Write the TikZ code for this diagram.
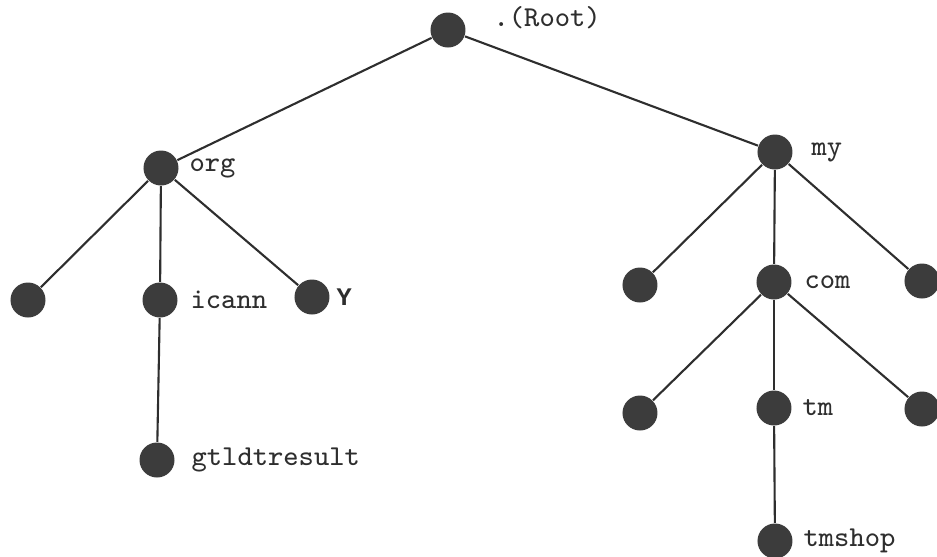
\documentclass[tikz,border=0pt]{standalone}
\usepackage{fontspec}
\newfontfamily\boldmono{Liberation Mono}
\definecolor{dotgray}{HTML}{3C3C3C}
\definecolor{linegray}{HTML}{2E2E2E}
\tikzset{
  dot/.style={circle, fill=dotgray, minimum size=0.35cm, inner sep=0pt},
  lbl/.style={font=\ttfamily\fontsize{8.2}{9}\selectfont, text=linegray, label distance=0cm},
  branch/.style={draw=linegray, line width=0.6pt}
}
\begin{document}
\begin{tikzpicture}[y=-1cm]
    \useasboundingbox (0,0) rectangle (9.37,5.56);

    % Root
    \node[dot, label={[lbl, label distance=0.15cm, yshift=0.12cm]right:.(Root)}] (root) at (4.48,0.30) {};

    % org branch
    \node[dot, label={[lbl, label distance=-0.02cm]right:org}] (org) at (1.61,1.68) {};
    \node[dot] (orgleaf) at (0.28,3.00) {};
    \node[dot, label={[lbl]right:icann}] (icann) at (1.60,3.00) {};
    \node[dot, label={[lbl, label distance=-0.06cm]right:{\boldmono\bfseries\fontsize{7.2}{9}\selectfont Y}}] (y) at (3.12,2.97) {};
    \node[dot, label={[lbl, label distance=0.04cm]right:gtldtresult}] (gtld) at (1.57,4.60) {};

    % my branch
    \node[dot, label={[lbl, label distance=0.06cm]right:my}] (my) at (7.75,1.52) {};
    \node[dot] (myleft) at (6.40,2.85) {};
    \node[dot, label={[lbl]right:com}] (com) at (7.74,2.82) {};
    \node[dot] (myright) at (9.22,2.81) {};
    \node[dot] (comleft) at (6.40,4.13) {};
    \node[dot, label={[lbl, label distance=-0.02cm]right:tm}] (tm) at (7.74,4.08) {};
    \node[dot] (comright) at (9.22,4.09) {};
    \node[dot, label={[lbl, label distance=-0.02cm]right:tmshop}] (tmshop) at (7.75,5.41) {};

    % Branches
    \draw[branch] (root) -- (org);
    \draw[branch] (root) -- (my);
    \draw[branch] (org) -- (orgleaf);
    \draw[branch] (org) -- (icann);
    \draw[branch] (org) -- (y);
    \draw[branch] (icann) -- (gtld);
    \draw[branch] (my) -- (myleft);
    \draw[branch] (my) -- (com);
    \draw[branch] (my) -- (myright);
    \draw[branch] (com) -- (comleft);
    \draw[branch] (com) -- (tm);
    \draw[branch] (com) -- (comright);
    \draw[branch] (tm) -- (tmshop);
\end{tikzpicture}
\end{document}
